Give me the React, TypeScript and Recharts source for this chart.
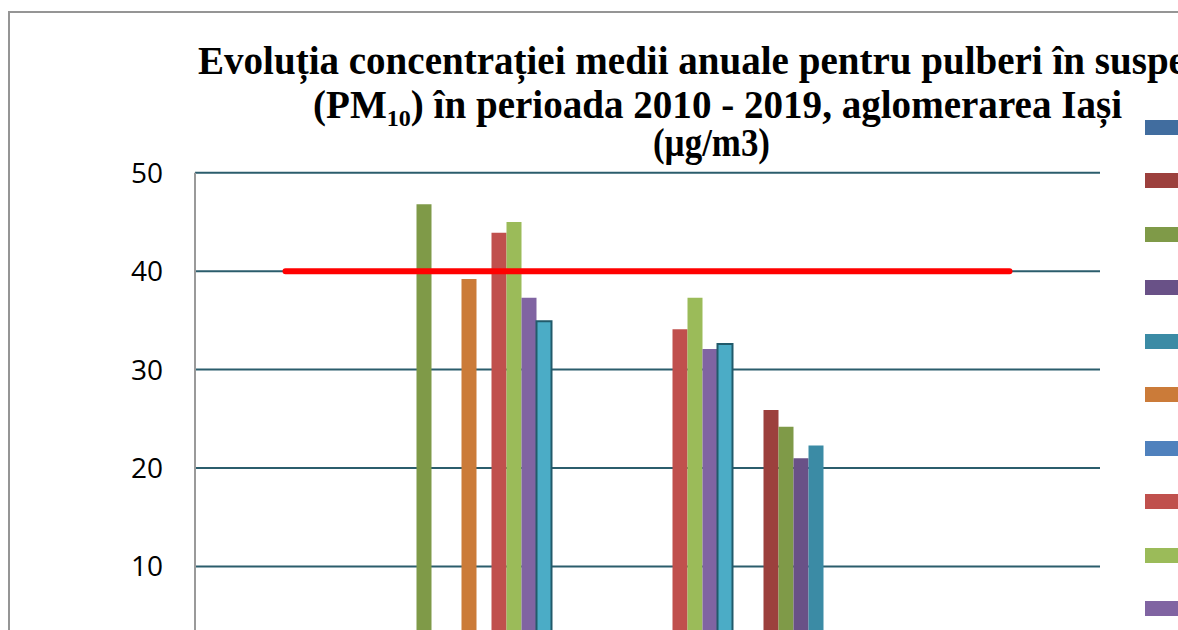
import React from 'react';
import { ComposedChart, Bar, Line, XAxis, YAxis, CartesianGrid } from 'recharts';

const categories = ['IS-1', 'IS-2', 'IS-3', 'IS-4', 'IS-5'];
const seriesNames = ['2009', '2010', '2011', '2012', '2013', '2014', '2015', '2016', '2017', '2018', '2019'];
const seriesColors = ['#416D9F', '#9C403D', '#7F9A48', '#695187', '#3B8BA5', '#CB7B39', '#4F81BD', '#C0504D', '#9BBB59', '#8064A2', '#4BACC6'];

const s2009 = [null, null, null, null, null];
const s2010 = [null, null, null, 25.9, null];
const s2011 = [null, 46.8, null, 24.2, null];
const s2012 = [null, null, null, 21.0, null];
const s2013 = [null, null, null, 22.3, null];
const s2014 = [null, 39.2, null, null, null];
const s2015 = [null, null, null, null, null];
const s2016 = [null, 43.9, 34.1, null, null];
const s2017 = [null, 45.0, 37.3, null, null];
const s2018 = [null, 37.3, 32.1, null, null];
const s2019 = [null, 34.9, 32.6, null, null];
const limitValues = [40, 40, 40, 40, 40];
const limitName = 'Valoare limită anuală';
const yTicks = [0, 10, 20, 30, 40, 50];

const seriesValues = [s2009, s2010, s2011, s2012, s2013, s2014, s2015, s2016, s2017, s2018, s2019];

const data = categories.map((c, i) => {
  const row: any = { category: c, limit: limitValues[i] };
  seriesNames.forEach((n, k) => {
    row[n] = seriesValues[k][i];
  });
  return row;
});

export default function App() {
  return (
    <div style={{ position: 'fixed', left: 0, top: 0, width: 1178, height: 630, overflow: 'hidden', background: '#fff' }}>
      <div style={{ position: 'absolute', left: 8, top: 11, width: 2000, height: 2000, border: '2px solid #959595', boxSizing: 'border-box' }} />
      <div style={{ position: 'absolute', left: 0, top: 0 }}>
        <ComposedChart
          width={1178}
          height={705}
          data={data}
          margin={{ top: 172.7, right: 78, bottom: 10, left: 0 }}
          barCategoryGap={10.5}
          barGap={0}
        >
          <CartesianGrid horizontal={true} vertical={false} stroke="#2B5D6C" strokeWidth={2} />
          <XAxis dataKey="category" height={30} axisLine={false} tickLine={false} tick={{ fontSize: 20, fill: '#000', fontFamily: 'Open Sans' }} />
          <YAxis
            width={195}
            domain={[0, 50]}
            ticks={yTicks}
            interval={0}
            tickLine={false}
            tickSize={0}
            tickMargin={32}
            axisLine={{ stroke: '#9A9A9A', strokeWidth: 2 }}
            tick={{ fontSize: 28, fill: '#000', fontFamily: 'Open Sans' }}
          />
          {seriesNames.map((n, k) => (
            <Bar
              key={n}
              dataKey={n}
              name={n}
              fill={seriesColors[k]}
              stroke={k === 10 ? '#215A6B' : 'none'}
              strokeWidth={k === 10 ? 2 : 0}
              isAnimationActive={false}
            />
          ))}
          <Line
            dataKey="limit"
            name={limitName}
            type="linear"
            stroke="#FF0000"
            strokeWidth={6}
            strokeLinecap="round"
            dot={false}
            activeDot={false}
            isAnimationActive={false}
          />
        </ComposedChart>
      </div>
      <svg style={{ position: 'absolute', left: 0, top: 0 }} width={1178} height={172}>
        <g fontFamily="'Liberation Serif', 'Times New Roman', serif" fontWeight="bold" fill="#000">
          <text x={198} y={74.3} fontSize={39} textLength={1053} lengthAdjust="spacingAndGlyphs">Evoluția concentrației medii anuale pentru pulberi în suspensie</text>
          <text x={313} y={117.7} fontSize={39} textLength={809} lengthAdjust="spacingAndGlyphs">
            (PM<tspan fontSize={24} dy={8}>10</tspan><tspan dy={-8}>) în perioada 2010 - 2019, aglomerarea Iași</tspan>
          </text>
          <text x={653} y={156} fontSize={39} textLength={117} lengthAdjust="spacingAndGlyphs">(µg/m3)</text>
        </g>
      </svg>
      <div style={{ position: 'absolute', left: 1145, top: 119.5 }}>
        {seriesNames.map((n, k) => (
          <div key={n} style={{ height: 53.5, display: 'flex', alignItems: 'flex-start', whiteSpace: 'nowrap' }}>
            <div style={{ width: 40, height: 15, background: seriesColors[k] }} />
            <span style={{ marginLeft: 12, fontFamily: 'Open Sans', fontSize: 22, lineHeight: '15px' }}>{n}</span>
          </div>
        ))}
        <div style={{ height: 53.5, display: 'flex', alignItems: 'flex-start', whiteSpace: 'nowrap' }}>
          <div style={{ width: 40, height: 6, marginTop: 5, background: '#FF0000' }} />
          <span style={{ marginLeft: 12, fontFamily: 'Open Sans', fontSize: 22, lineHeight: '15px' }}>{limitName}</span>
        </div>
      </div>
    </div>
  );
}
